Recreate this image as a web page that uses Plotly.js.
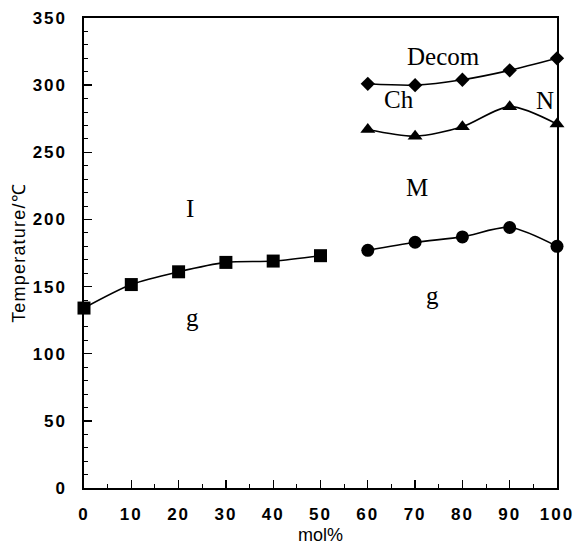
<!DOCTYPE html>
<html>
<head>
<meta charset="utf-8">
<script src="https://cdn.plot.ly/plotly-3.0.1.min.js"></script>
<style>
html, body { margin: 0; padding: 0; background: #fff; }
#plot { width: 575px; height: 545px; }
.xtick text, .ytick text { letter-spacing: 2px; }
.ytitle { letter-spacing: 1.2px; }
</style>
</head>
<body>
<div id="plot"></div>
<script>
// Isotropic -> glass transition (squares)
const xSquare = [0, 10, 20, 30, 40, 50];
const ySquare = [134, 151.5, 161, 168, 169, 173];
// Decomposition (diamonds)
const xDiamond = [60, 70, 80, 90, 100];
const yDiamond = [301, 300, 304, 311, 320];
// Ch -> N / M boundary (triangles)
const xTriangle = [60, 70, 80, 90, 100];
const yTriangle = [267, 262, 269, 284, 271];
// M -> g (circles)
const xCircle = [60, 70, 80, 90, 100];
const yCircle = [177, 183, 187, 194, 180];

const xTickVals = [0, 10, 20, 30, 40, 50, 60, 70, 80, 90, 100];
const yTickVals = [0, 50, 100, 150, 200, 250, 300, 350];

const phaseLabels = ['I', 'g', 'Decom', 'Ch', 'N', 'M', 'g'];
const phaseX = [22.4, 23, 76.1, 66.7, 97.5, 70.3, 73.7];
const phaseY = [208, 127, 321.4, 289.6, 288.8, 223.8, 143];

function series(x, y, symbol, size) {
  return {
    x: x, y: y, type: 'scatter', mode: 'lines+markers',
    line: { color: '#000', width: 1.6, shape: 'spline', smoothing: 0.8 },
    marker: { symbol: symbol, size: size, color: '#000' },
    cliponaxis: false, showlegend: false, hoverinfo: 'x+y'
  };
}

const data = [
  series(xSquare, ySquare, 'square', 13),
  series(xDiamond, yDiamond, 'diamond', 11),
  series(xTriangle, yTriangle, 'triangle-up', 13),
  series(xCircle, yCircle, 'circle', 13)
];

const annotations = phaseLabels.map((t, i) => ({
  x: phaseX[i], y: phaseY[i], xref: 'x', yref: 'y', text: t, showarrow: false,
  font: { family: 'Liberation Serif, Times New Roman, serif', size: 25, color: '#000' },
  xanchor: 'center', yanchor: 'middle'
}));

const tickFont = { family: 'Liberation Sans, Arial, sans-serif', size: 17, color: '#000', weight: 'bold' };
const titleFont = { family: 'Liberation Sans, Arial, sans-serif', size: 18, color: '#000' };

const layout = {
  width: 575, height: 545,
  margin: { l: 84, r: 18, t: 18, b: 57 },
  paper_bgcolor: '#fff', plot_bgcolor: '#fff',
  showlegend: false,
  xaxis: {
    range: [0, 100], tickvals: xTickVals, ticktext: xTickVals.map(String),
    ticks: 'inside', ticklen: 8, tickwidth: 1.3, tickcolor: '#000',
    minor: { dtick: 5, ticks: 'inside', ticklen: 4, tickwidth: 1, tickcolor: '#000' },
    showline: true, linecolor: '#000', linewidth: 1.6, mirror: true,
    showgrid: false, zeroline: false,
    tickfont: tickFont, ticklabelstandoff: 10,
    title: { text: 'mol%', font: titleFont, standoff: 5 }
  },
  yaxis: {
    range: [0, 350], tickvals: yTickVals, ticktext: yTickVals.map(String),
    ticks: 'inside', ticklen: 8, tickwidth: 1.3, tickcolor: '#000',
    minor: { dtick: 10, ticks: 'inside', ticklen: 4, tickwidth: 1, tickcolor: '#000' },
    showline: true, linecolor: '#000', linewidth: 1.6, mirror: true,
    showgrid: false, zeroline: false,
    tickfont: tickFont, ticklabelstandoff: 12,
    title: { text: 'Temperature/℃', font: titleFont, standoff: 2 }
  },
  annotations: annotations
};

Plotly.newPlot('plot', data, layout, { displayModeBar: false, staticPlot: true });
</script>
</body>
</html>
